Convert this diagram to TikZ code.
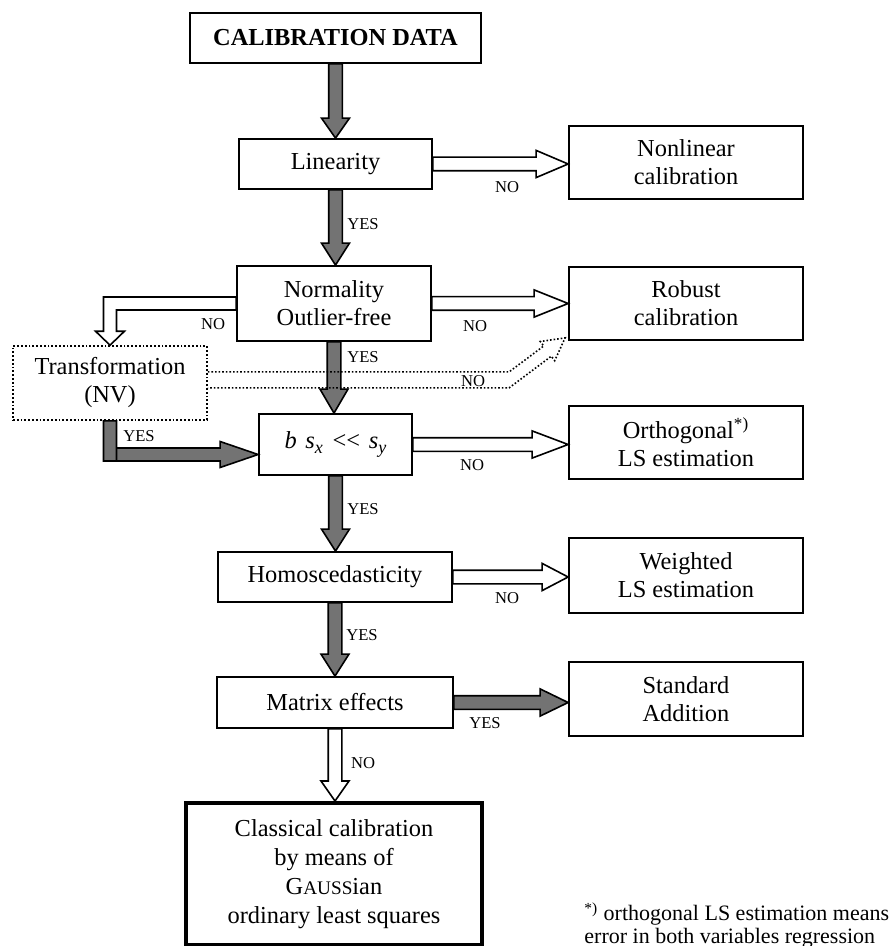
\documentclass[tikz,border=0pt]{standalone}
\usepackage{fontspec}
\setmainfont{Liberation Serif}
\usetikzlibrary{calc}

\definecolor{arrowgray}{gray}{0.45}
\newcommand{\boxfont}{\fontsize{12.2}{14}\selectfont}
\newcommand{\lblfont}{\fontsize{8.3}{9}\selectfont}
\newcommand{\lowsub}[1]{\raisebox{-0.45ex}{\fontsize{9}{9}\selectfont\textit{#1}}}

% block arrow straight down: [style]{from}{to}{head length}
\newcommand{\flowdown}[4][darkarrow]{%
  \path[#1] let \p1=(#2), \p2=(#3) in
    (\x1-3.4pt,\y1) -- (\x1-3.4pt,\y2+#4) -- (\x1-7pt,\y2+#4) -- (\x1,\y2)
    -- (\x1+7pt,\y2+#4) -- (\x1+3.4pt,\y2+#4) -- (\x1+3.4pt,\y1) -- cycle;}
% block arrow straight right: [style]{from}{to}{head length}
\newcommand{\flowright}[4][whitearrow]{%
  \path[#1] let \p1=(#2), \p2=(#3) in
    (\x1,\y1+3.4pt) -- (\x2-#4,\y1+3.4pt) -- (\x2-#4,\y1+6.8pt) -- (\x2,\y1)
    -- (\x2-#4,\y1-6.8pt) -- (\x2-#4,\y1-3.4pt) -- (\x1,\y1-3.4pt) -- cycle;}

\begin{document}
\begin{tikzpicture}[
    x=0.5pt, y=-0.5pt,
    box/.style={draw, line width=0.9pt, align=center, font=\boxfont, inner sep=2pt, minimum height=25pt},
    rbox/.style={box, minimum width=117pt, minimum height=36.5pt},
    darkarrow/.style={draw=black, fill=arrowgray, line width=0.8pt},
    whitearrow/.style={draw=black, fill=white, line width=0.8pt},
    dotarrow/.style={draw=black, densely dotted, line width=0.8pt},
    lbl/.style={font=\lblfont, inner sep=0pt}
]
\useasboundingbox (0,0) rectangle (892,946);

% main column
\node[box, minimum width=145.5pt, font=\boxfont\bfseries] (cal) at (335.5,38) {CALIBRATION DATA};
\node[box, minimum width=96.5pt] (lin) at (335.5,164) {Linearity};
\node[box, minimum width=97pt, minimum height=37.5pt] (norm) at (334,303.5) {Normality\\Outlier-free};
\node[box, minimum width=76.5pt, minimum height=30.5pt] (bsx) at (335.5,444.5)
    {\textit{b}\hspace{0.35em}\textit{s}\lowsub{x}\hspace{0.4em}<{}<\hspace{0.35em}\textit{s}\lowsub{y}};
\node[box, minimum width=117pt] (homo) at (335,577) {Homoscedasticity};
\node[box, minimum width=118pt, minimum height=25.5pt] (matrix) at (335,702.5) {Matrix effects};
\node[box, line width=2pt, minimum width=148pt, minimum height=71pt, font=\fontsize{12.2}{14.5}\selectfont] (classic) at (334,874)
    {Classical calibration\\by means of\\G{\fontsize{9.6}{10}\selectfont AUSS}ian\\ordinary least squares};

% side column
\node[box, densely dotted, line width=0.8pt, minimum width=97pt, minimum height=37pt] (trans) at (110,383) {Transformation\\(NV)};
\node[rbox] (nonlin) at (686,162.5) {Nonlinear\\calibration};
\node[rbox] (robust) at (686,303.5) {Robust\\calibration};
\node[rbox] (ortho) at (686,442.5) {Orthogonal\textsuperscript{*)}\\LS estimation};
\node[rbox, minimum height=37.5pt] (weight) at (686,575.5) {Weighted\\LS estimation};
\node[rbox, minimum height=37pt] (std) at (686,699) {Standard\\Addition};

% arrows down
\flowdown{cal.south}{lin.north}{10pt}
\flowdown{lin.south}{norm.north}{11pt}
\flowdown{norm.south}{bsx.north}{12pt}
\flowdown{bsx.south}{homo.north}{11pt}
\flowdown{homo.south}{matrix.north}{11pt}
\flowdown[whitearrow]{matrix.south}{classic.north}{10pt}

% arrows right
\flowright{lin.east}{nonlin.west}{16pt}
\flowright{norm.east}{robust.west}{17pt}
\flowright{bsx.east}{ortho.west}{18pt}
\flowright{homo.east}{weight.west}{13pt}
\flowright[darkarrow]{matrix.east}{std.west}{14pt}

% normality -> transformation
\path[whitearrow] let \p1=(norm.west), \p2=(trans.north) in
    (\x1,\y1+3.25pt) -- (\x2-3.25pt,\y1+3.25pt) -- (\x2-3.25pt,\y2+7pt) -- (\x2-7.25pt,\y2+7pt)
    -- (\x2,\y2) -- (\x2+7.25pt,\y2+7pt) -- (\x2+3.25pt,\y2+7pt) -- (\x2+3.25pt,\y1-3.25pt)
    -- (\x1,\y1-3.25pt) -- cycle;

% transformation -> b s_x
\path[darkarrow] let \p1=(trans.south), \p2=([yshift=-5pt]bsx.west) in
    (\x1-3.25pt,\y1) -- (\x1-3.25pt,\y2-3.25pt) -- (\x2-19pt,\y2-3.25pt) -- (\x2-19pt,\y2-6.5pt)
    -- (\x2,\y2) -- (\x2-19pt,\y2+6.5pt) -- (\x2-19pt,\y2+3.25pt) -- (\x1+3.25pt,\y2+3.25pt)
    -- (\x1+3.25pt,\y1) -- cycle
    (\x1+3.25pt,\y2+3.25pt) -- (\x1+3.25pt,\y2-3.25pt);

% transformation -> robust (dotted)
\path[dotarrow] let \p1=(trans.east), \p2=([shift={(-1.5pt,1.5pt)}]robust.south west) in
    (\x1,\y2-17pt) -- (\x2-28pt,\y2-17pt) -- (\x2-10.7pt,\y2-4.05pt) -- (\x2-12.4pt,\y2-1.8pt)
    -- (\x2,\y2) -- (\x2-5.2pt,\y2-11.4pt) -- (\x2-6.9pt,\y2-9.15pt) -- (\x2-28pt,\y2-25pt)
    -- (\x1,\y2-25pt);

% labels
\node[lbl] (noA) at (507,187) {NO};
\node[lbl] (yesA) at (363,224) {YES};
\node[lbl] (noB) at (213,324) {NO};
\node[lbl] (noC) at (475,326) {NO};
\node[lbl] (yesB) at (363,357) {YES};
\node[lbl] (noD) at (473,381) {NO};
\node[lbl] (yesC) at (139,436) {YES};
\node[lbl] (noE) at (472,465) {NO};
\node[lbl] (yesD) at (363,509) {YES};
\node[lbl] (noF) at (507,598) {NO};
\node[lbl] (yesE) at (362,635) {YES};
\node[lbl] (yesF) at (485,723) {YES};
\node[lbl] (noG) at (363,763) {NO};

% footnote
\node[anchor=west, align=left, inner sep=0pt, font=\fontsize{11}{11.5}\selectfont] (foot) at (584,925.5)
    {\textsuperscript{*)} orthogonal LS estimation means\\error in both variables regression};
\end{tikzpicture}
\end{document}
